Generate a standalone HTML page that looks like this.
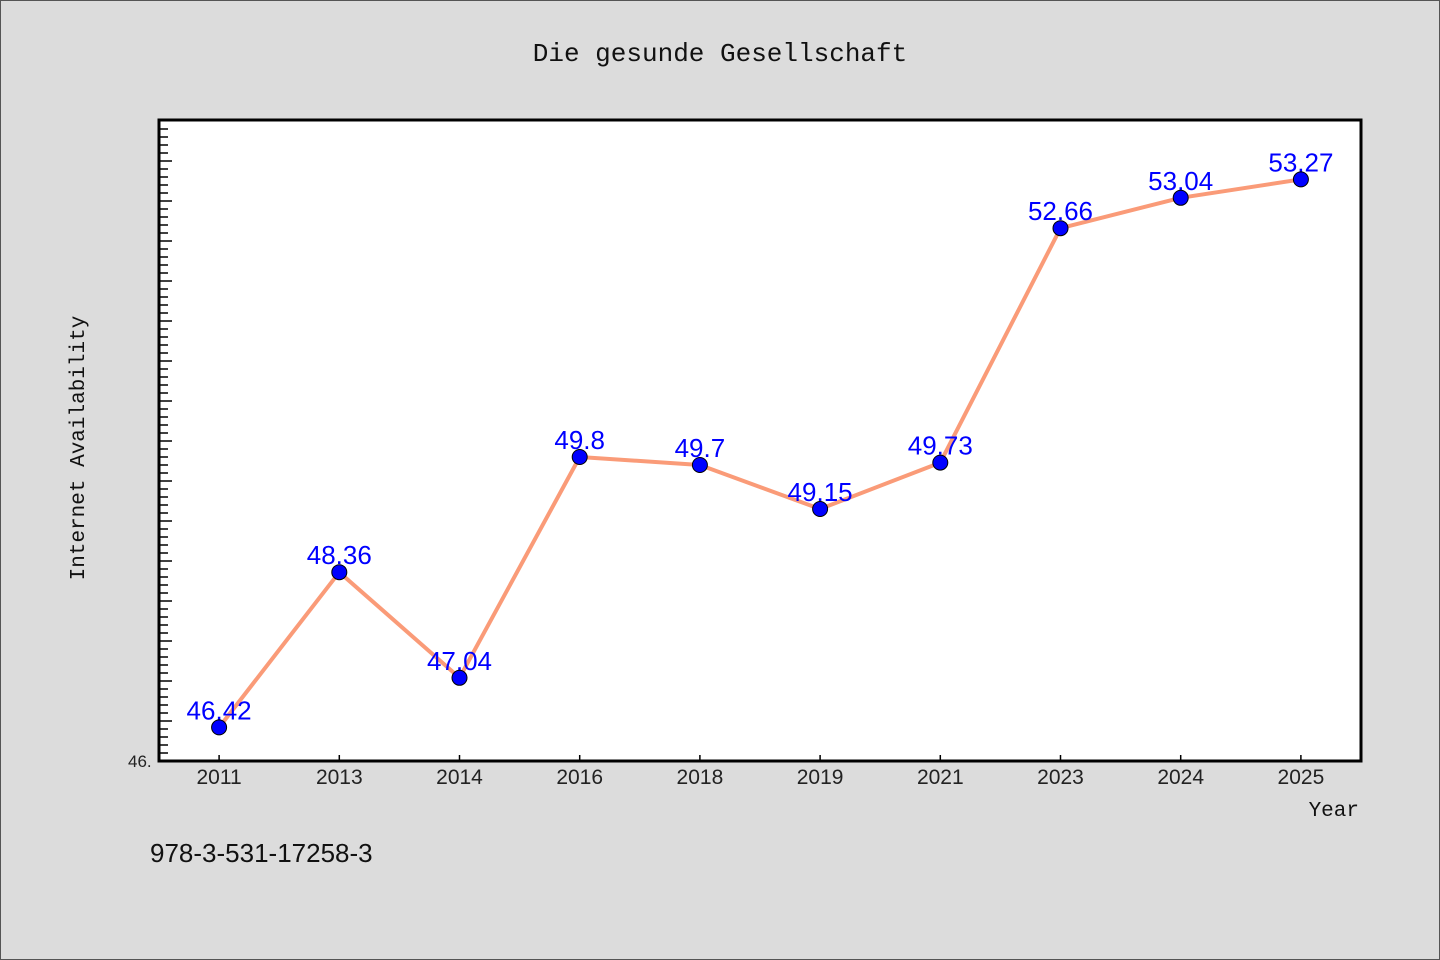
<!DOCTYPE html>
<html><head><meta charset="utf-8"><style>
body{margin:0;background:#dcdcdc;}
svg{display:block;font-family:"Liberation Sans",sans-serif;}
</style></head><body>
<svg width="1440" height="960">
<rect x="0.5" y="0.5" width="1439" height="959" fill="#dcdcdc" stroke="#555"/>
<text x="720" y="61" text-anchor="middle" font-size="26" font-family="Liberation Mono, monospace" fill="#111">Die gesunde Gesellschaft</text>
<rect x="159" y="120" width="1202" height="641" fill="#fff"/>
<g id="yticks"></g>
<g id="xticks"></g>
<rect x="159" y="120" width="1202" height="641" fill="none" stroke="#000" stroke-width="3"/>
<text x="128" y="767" font-size="17" fill="#222">46.</text>
<text transform="translate(84,448) rotate(-90)" text-anchor="middle" font-size="21" font-family="Liberation Mono, monospace" fill="#111">Internet Availability</text>
<text x="1359" y="816" text-anchor="end" font-size="21" font-family="Liberation Mono, monospace" fill="#111">Year</text>
<text x="150" y="862" font-size="26" fill="#111">978-3-531-17258-3</text>
<g id="series"></g>
</svg>
<script>
const categories=["2011","2013","2014","2016","2018","2019","2021","2023","2024","2025"];
const values=[46.42,48.36,47.04,49.8,49.7,49.15,49.73,52.66,53.04,53.27];
const labels=["46.42","48.36","47.04","49.8","49.7","49.15","49.73","52.66","53.04","53.27"];
const yMin=46, yMax=54.0125;
const L=159,R=1361,T=120,B=761;
const NS="http://www.w3.org/2000/svg";
function y(v){return B-(v-yMin)/(yMax-yMin)*(B-T);}
function x(i){return L+(R-L)/categories.length*(i+0.5);}
function mk(t,a,p){const e=document.createElementNS(NS,t);for(const k in a)e.setAttribute(k,a[k]);p.appendChild(e);return e;}
const yt=document.getElementById('yticks');
for(let k=0;k<=80;k++){const v=yMin+k*0.1;const yy=y(v);if(yy<T+4)break;
 const major=k%5===0;
 const l=mk('line',{x1:L,x2:L+(major?13:9),y1:yy,y2:yy,stroke:'#000','stroke-width':1.5},yt);
 
 }
const xt=document.getElementById('xticks');
categories.forEach((c,i)=>{
 const l=mk('line',{x1:x(i),x2:x(i),y1:B,y2:B-6,stroke:'#000','stroke-width':1.5},xt);
 
 
 const t=mk('text',{x:x(i),y:B+23,'text-anchor':'middle','font-size':21,fill:'#222'},xt);t.textContent=c;
 
 });
const s=document.getElementById('series');
const pl=mk('polyline',{points:values.map((v,i)=>x(i)+','+y(v)).join(' '),fill:'none',stroke:'#fa9b78','stroke-width':4,'stroke-linejoin':'round'},s);


values.forEach((v,i)=>{
 const t=mk('text',{x:x(i),y:y(v)+7-15,'text-anchor':'middle','font-size':26,fill:'#0000ff'},s);t.textContent=labels[i];
 
 
 const c=mk('circle',{cx:x(i),cy:y(v),r:7.5,fill:'#0000ff',stroke:'#000','stroke-width':1},s);
 
 });
</script>
</body></html>
